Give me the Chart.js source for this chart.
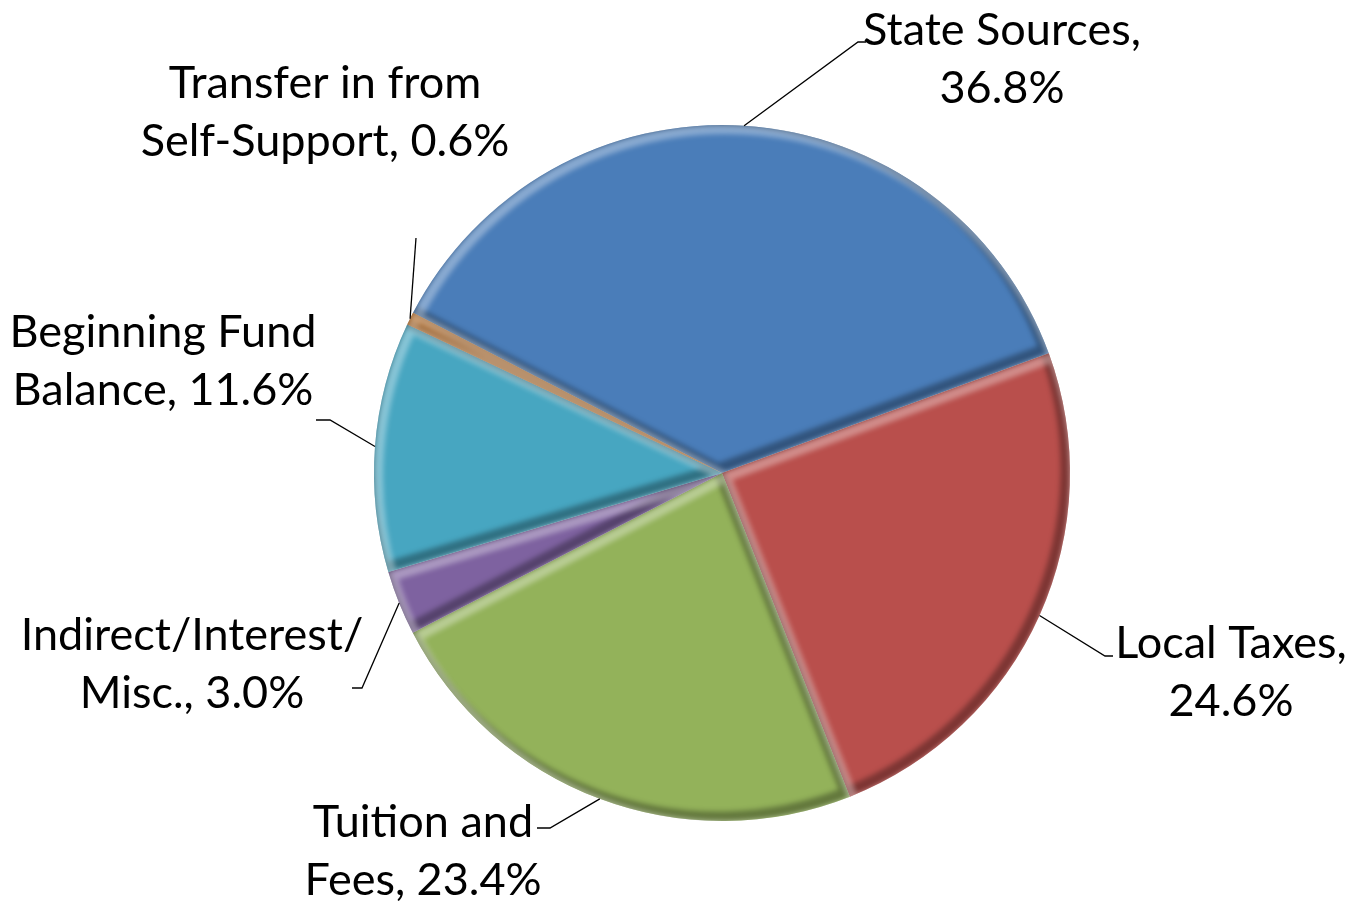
<!DOCTYPE html>
<html><head><meta charset="utf-8">
<script src="https://cdn.jsdelivr.net/npm/chart.js@4.4.0/dist/chart.umd.min.js"></script>
<style>html,body{margin:0;padding:0;background:#fff;overflow:hidden}#wrap{width:1349px;height:903px;position:relative}</style>
</head><body><div id="wrap"><canvas id="c"></canvas></div>
<script>
// ---- data ----
const categories = ["State Sources", "Local Taxes", "Tuition and Fees", "Indirect/Interest/Misc.", "Beginning Fund Balance", "Transfer in from Self-Support"];
const shares = [36.8, 24.6, 23.4, 3.0, 11.6, 0.6];
// label text: first line, and prefix of second line (value appended)
const labelLine1 = ["State Sources,", "Local Taxes,", "Tuition and", "Indirect/Interest/", "Beginning Fund", "Transfer in from"];
const labelLine2Prefix = ["", "", "Fees, ", "Misc., ", "Balance, ", "Self-Support, "];

// ---- style / layout ----
const colors = ["#4A7DB9", "#B94F4C", "#93B25A", "#7E62A0", "#47A6C1", "#D9812F"];
const labelCenters = [[1002, 59], [1231, 672], [423, 851], [192, 664], [163, 361], [325, 112]];
const labelElbows = [[[858, 42], [866, 42]], [[1105, 656], [1113, 656]], [[550, 828], [537, 828]], [[362, 688], [352, 688]], [[330, 420], [316, 420]], [[416, 238]]];
const FONT = '45px Lato, "Open Sans", sans-serif';
const LINE_GAP = 58;

function arcPath(ctx, p) {
  ctx.beginPath();
  ctx.moveTo(p.x, p.y);
  ctx.arc(p.x, p.y, p.outerRadius, p.startAngle, p.endAngle);
  ctx.closePath();
}

const bevelAndLabels = {
  id: 'bevelAndLabels',
  afterDatasetsDraw(chart) {
    const ctx = chart.ctx;
    const meta = chart.getDatasetMeta(0);
    meta.data.forEach((el) => {
      const p = el.getProps(['x', 'y', 'startAngle', 'endAngle', 'outerRadius'], true);
      ctx.save();
      arcPath(ctx, p);
      ctx.clip();
      ctx.filter = 'blur(2.5px)';
      ctx.save(); ctx.translate(-4, -4); arcPath(ctx, p);
      ctx.lineWidth = 11; ctx.strokeStyle = 'rgba(0,0,0,0.32)'; ctx.stroke(); ctx.restore();
      ctx.save(); ctx.translate(4, 4); arcPath(ctx, p);
      ctx.lineWidth = 10; ctx.strokeStyle = 'rgba(255,255,255,0.35)'; ctx.stroke(); ctx.restore();
      ctx.restore();
    });
    // leader lines + labels
    ctx.save();
    ctx.strokeStyle = '#000';
    ctx.lineWidth = 1.3;
    meta.data.forEach((el, i) => {
      const p = el.getProps(['x', 'y', 'startAngle', 'endAngle', 'outerRadius'], true);
      const mid = (p.startAngle + p.endAngle) / 2;
      const sx = p.x + Math.cos(mid) * p.outerRadius;
      const sy = p.y + Math.sin(mid) * p.outerRadius;
      ctx.beginPath();
      ctx.moveTo(sx, sy);
      labelElbows[i].forEach(pt => ctx.lineTo(pt[0], pt[1]));
      ctx.stroke();
      const c = labelCenters[i];
      ctx.fillStyle = '#000';
      ctx.font = FONT;
      ctx.textAlign = 'center';
      ctx.textBaseline = 'middle';
      ctx.fillText(labelLine1[i], c[0], c[1] - LINE_GAP / 2);
      ctx.fillText(labelLine2Prefix[i] + shares[i].toFixed(1) + '%', c[0], c[1] + LINE_GAP / 2);
    });
    ctx.restore();
  }
};

new Chart(document.getElementById('c'), {
  type: 'pie',
  data: {
    labels: categories,
    datasets: [{
      data: shares,
      backgroundColor: colors,
      borderWidth: 0
    }]
  },
  options: {
    responsive: true,
    maintainAspectRatio: false,
    animation: false,
    rotation: -62.6,
    layout: { padding: { top: 125, bottom: 82, left: 95, right: 0 } },
    plugins: { legend: { display: false }, tooltip: { enabled: false }, title: { display: false } }
  },
  plugins: [bevelAndLabels]
});
</script>
</body></html>
